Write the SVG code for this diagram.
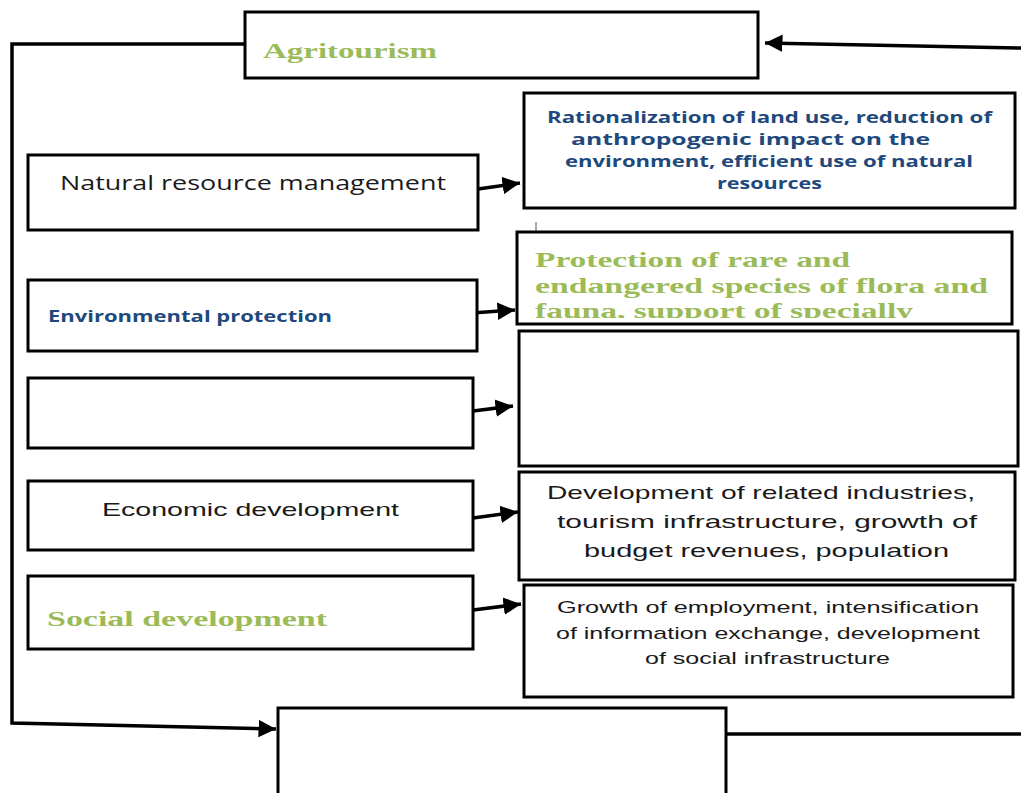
<svg xmlns="http://www.w3.org/2000/svg" width="1021" height="793" viewBox="0 0 1021 793">
<style>
.box{fill:#fff;stroke:#000;stroke-width:3}
.ln{fill:none;stroke:#000;stroke-width:3.5}
.g{fill:#9bbb59;font-family:"Liberation Serif",serif;font-weight:bold;font-size:22px}
.n{fill:#1f497d;font-family:"Open Sans","Liberation Sans",sans-serif;font-weight:bold;font-size:16px}
.b{fill:#1a1a1a;font-family:"Open Sans","Liberation Sans",sans-serif;font-size:20px}
.c{fill:#1a1a1a;font-family:"Liberation Sans",sans-serif;font-size:19px}
.s{fill:#1a1a1a;font-family:"Liberation Sans",sans-serif;font-size:17px}
</style>
<defs>
<marker id="ah" markerWidth="6" markerHeight="6" refX="5" refY="3" orient="auto" markerUnits="strokeWidth">
<path d="M0,0.5 L5,3 L0,5.5 Z" fill="#000"/>
</marker>
<clipPath id="cp1"><rect x="519" y="234" width="492" height="84"/></clipPath>
<clipPath id="cp2"><rect x="520" y="474" width="494" height="104"/></clipPath>
</defs>
<rect width="1021" height="793" fill="#fff"/>
<g id="connectors">
<path class="ln" d="M248,44 L12,44 L12,723 L276,729" marker-end="url(#ah)"/>
<path class="ln" d="M1021,48 L765,43" marker-end="url(#ah)"/>
<path class="ln" d="M726,734 L1021,734"/>
<path class="ln" d="M478,189 L520,183" marker-end="url(#ah)"/>
<path class="ln" d="M472,313 L515,310" marker-end="url(#ah)"/>
<path class="ln" d="M473,411 L513,406" marker-end="url(#ah)"/>
<path class="ln" d="M473,518 L518,512" marker-end="url(#ah)"/>
<path class="ln" d="M473,610 L521,604" marker-end="url(#ah)"/>
<path d="M536,222 L536,241" stroke="#555" stroke-width="1"/>
</g>
<g id="agritourism">
<rect class="box" x="245" y="12" width="513" height="66"/>
<text class="g" x="263" y="58" textLength="174" lengthAdjust="spacingAndGlyphs">Agritourism</text>
</g>
<g id="nrm">
<rect class="box" x="28" y="155" width="450" height="75"/>
<text class="b" x="60" y="190" textLength="386" lengthAdjust="spacingAndGlyphs">Natural resource management</text>
</g>
<g id="rationalization">
<rect class="box" x="524" y="93" width="491" height="115"/>
<text class="n" x="547" y="123" textLength="445" lengthAdjust="spacingAndGlyphs">Rationalization of land use, reduction of</text>
<text class="n" x="571" y="145" textLength="359" lengthAdjust="spacingAndGlyphs">anthropogenic impact on the</text>
<text class="n" x="565" y="167" textLength="408" lengthAdjust="spacingAndGlyphs">environment, efficient use of natural</text>
<text class="n" x="717" y="189" textLength="105" lengthAdjust="spacingAndGlyphs">resources</text>
</g>
<g id="envprot">
<rect class="box" x="28" y="280" width="449" height="71"/>
<text class="n" x="48" y="322" textLength="284" lengthAdjust="spacingAndGlyphs">Environmental protection</text>
</g>
<g id="protection">
<rect class="box" x="517" y="232" width="495" height="92"/>
<g clip-path="url(#cp1)">
<text class="g" x="535" y="267" textLength="315" lengthAdjust="spacingAndGlyphs">Protection of rare and</text>
<text class="g" x="535" y="293" textLength="453" lengthAdjust="spacingAndGlyphs">endangered species of flora and</text>
<text class="g" x="535" y="318" textLength="378" lengthAdjust="spacingAndGlyphs">fauna, support of specially</text>
</g>
</g>
<g id="empty-left">
<rect class="box" x="28" y="378" width="445" height="70"/>
</g>
<g id="empty-right">
<rect class="box" x="519" y="331" width="499" height="135"/>
</g>
<g id="economic">
<rect class="box" x="28" y="481" width="445" height="69"/>
<text class="c" x="102" y="516" textLength="297" lengthAdjust="spacingAndGlyphs">Economic development</text>
</g>
<g id="economic-detail">
<rect class="box" x="519" y="472" width="496" height="108"/>
<g clip-path="url(#cp2)">
<text class="c" x="547" y="499" textLength="428" lengthAdjust="spacingAndGlyphs">Development of related industries,</text>
<text class="c" x="557" y="528" textLength="420" lengthAdjust="spacingAndGlyphs">tourism infrastructure, growth of</text>
<text class="c" x="584" y="557" textLength="365" lengthAdjust="spacingAndGlyphs">budget revenues, population</text>
</g>
</g>
<g id="social">
<rect class="box" x="28" y="576" width="445" height="73"/>
<text class="g" x="47" y="626" textLength="280" lengthAdjust="spacingAndGlyphs">Social development</text>
</g>
<g id="social-detail">
<rect class="box" x="524" y="585" width="489" height="112"/>
<text class="s" x="557" y="613" textLength="422" lengthAdjust="spacingAndGlyphs">Growth of employment, intensification</text>
<text class="s" x="556" y="639" textLength="424" lengthAdjust="spacingAndGlyphs">of information exchange, development</text>
<text class="s" x="645" y="664" textLength="245" lengthAdjust="spacingAndGlyphs">of social infrastructure</text>
</g>
<g id="bottom">
<rect class="box" x="278" y="708" width="448" height="100"/>
</g>
</svg>
